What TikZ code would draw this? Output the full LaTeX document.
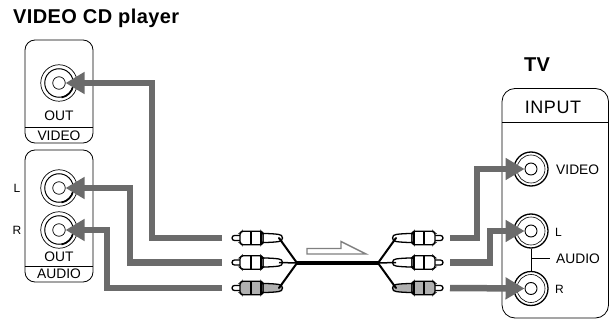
\documentclass[tikz,border=0pt]{standalone}
\usepackage{fontspec}
\setmainfont{Liberation Sans}
\newfontfamily\headfont[LetterSpace=2]{Liberation Sans}
\newfontfamily\inputfont[LetterSpace=3]{Liberation Sans}
\usetikzlibrary{arrows.meta,calc}
\definecolor{feedgray}{HTML}{6B6B6B}
\definecolor{pluggray}{HTML}{B0B0B0}
\tikzset{
  x=1pt,y=-1pt,
  lab/.style={font=\fontsize{13.8}{15}\selectfont,inner sep=0pt},
  smalllab/.style={font=\fontsize{12}{13}\selectfont,inner sep=0pt},
  headlab/.style={font=\headfont\bfseries\fontsize{20}{22}\selectfont,inner sep=0pt},
  panel/.style={draw,line width=0.8pt,rounded corners=10pt,minimum width=68pt,inner sep=0pt},
  ring/.style={circle,draw,inner sep=0pt},
  feed/.style={draw=feedgray,line width=6.5pt,-{Triangle[length=19pt,width=21pt]}},
  cable/.style={line width=2pt,line cap=round},
  pics/plug/.style={code={
    \coordinate (-end) at (47,0);
    \coordinate (-gap) at (-10,0);
    \draw[line width=1.3pt,fill=white] (8,-2.5) -- (2.5,-2.5) arc[start angle=-90,end angle=-270,radius=2.5] -- (8,2.5);
    \draw[line width=1.3pt,fill=#1,line join=round] (31,-4.5) .. controls (38,-4.5) and (44,-4) .. (47,-3.5) arc[start angle=-90,end angle=90,radius=3.5] .. controls (44,4) and (38,4.5) .. (31,4.5) -- cycle;
    \draw[line width=1.3pt,fill=#1,rounded corners=1.5pt] (8,-5) -- (10,-6.8) -- (29,-6.8) -- (31,-5) -- (31,5) -- (29,6.8) -- (10,6.8) -- (8,5) -- cycle;
    \draw[line width=1.1pt] (19,-6.8) -- (19,6.8) (29,-6.8) -- (29,6.8);
  }}
}
\newcommand{\outjack}[3]{%
  \node[ring,line width=0.7pt,minimum size=36.5pt] (#1-o) at (#2,#3) {};
  \node[ring,line width=1pt,minimum size=28.5pt] (#1-m) at (#2,#3) {};
  \draw[line width=1.6pt] (#1-m.-80) arc[start angle=-80,end angle=-10,radius=14.25pt];
  \node[ring,line width=0.7pt,minimum size=12.5pt] (#1) at (#2,#3) {};
}
\newcommand{\injack}[3]{%
  \node[ring,line width=1.3pt,minimum size=34pt] (#1-o) at (#2,#3) {};
  \node[ring,line width=0.6pt,minimum size=28pt] (#1-m) at (#2,#3) {};
  \node[ring,line width=0.9pt,minimum size=12pt] (#1) at (#2,#3) {};
}
\begin{document}
\begin{tikzpicture}
\useasboundingbox (0,0) rectangle (609,320);

% titles
\node[headlab,anchor=west] (title) at (13,18) {VIDEO CD player};
\node[headlab,anchor=center] (tvtitle) at (537,65) {TV};

% source panels
\node[panel,minimum height=103pt] (vpanel) at (59,91.5) {};
\draw[line width=0.8pt] (vpanel.west |- 0,127) -- (vpanel.east |- 0,127);
\node[lab] (vout) at (59,116) {OUT};
\node[lab] (vvideo) at (59,136) {VIDEO};

\node[panel,minimum height=132pt] (apanel) at (59,216) {};
\draw[line width=0.8pt] (apanel.west |- 0,266) -- (apanel.east |- 0,266);
\node[lab] (aout) at (59,257) {OUT};
\node[lab] (aaudio) at (59,274) {AUDIO};
\node[smalllab] (al) at (17,188) {L};
\node[smalllab] (ar) at (17,230) {R};

% TV panel
\draw[line width=0.8pt,rounded corners=13pt] (502,318) -- (502,88.5) -- (608.5,88.5) -- (608.5,318) -- cycle;
\draw[line width=0.8pt] (502,122) -- (608.5,122);
\node[inner sep=0pt,font=\inputfont\fontsize{18}{20}\selectfont] (input) at (553,107) {INPUT};
\node[lab,anchor=west] (tvideo) at (556,170) {VIDEO};
\node[smalllab,anchor=west] (tl) at (555,232) {L};
\node[lab,anchor=west] (taudio) at (556,258.5) {AUDIO};
\node[smalllab,anchor=west] (tr) at (555,289) {R};

% jacks
\outjack{sv}{59}{83}
\outjack{sl}{59}{188}
\outjack{sr}{59}{230}
\injack{tv}{531}{169}
\injack{il}{531}{231}
\injack{ir}{531}{288.5}
\draw[line width=0.8pt] (il-o) -- (ir-o);
\draw[line width=0.8pt] (531,258.5) -- ([xshift=-6pt]taudio.west);

% plugs
\pic (pa) at (232,238) {plug=white};
\pic (pb) at (232,262.5) {plug=white};
\pic (pc) at (232,288) {plug=pluggray};
\pic[xscale=-1] (qa) at (443,238) {plug=white};
\pic[xscale=-1] (qb) at (443,262.5) {plug=white};
\pic[xscale=-1] (qc) at (443,288) {plug=pluggray};

% cables
\coordinate (jl) at (297,263);
\coordinate (jr) at (378,263);
\draw[line width=3.8pt] (jl) -- (jr);
\draw[cable] (pa-end) -- (jl);
\draw[line width=1.5pt] (pb-end) -- (jl);
\draw[cable] (pc-end) -- (jl);
\draw[cable] (qa-end) -- (jr);
\draw[line width=1.5pt] (qb-end) -- (jr);
\draw[cable] (qc-end) -- (jr);

% direction arrow
\draw[draw=black!50,line width=1.4pt,line join=miter] (307,248.5) -- (341,248.5) -- (341,241.5) -- (366,254) -- (307,254) -- cycle;

% connection feeds
\draw[feed] (pa-gap) -- (152,238) |- (sv.east);
\draw[feed] (pb-gap) -- (130,262.5) |- (sl.east);
\draw[feed] (pc-gap) -- (107,288) |- (sr.east);
\draw[feed] ([xshift=-3pt]qa-gap) -- (477,238) |- (tv.west);
\draw[feed] ([xshift=-3pt]qb-gap) -- (490,262.5) |- (il.west);
\draw[feed] ([xshift=-3pt]qc-gap) -- (ir.west);
\end{tikzpicture}
\end{document}
